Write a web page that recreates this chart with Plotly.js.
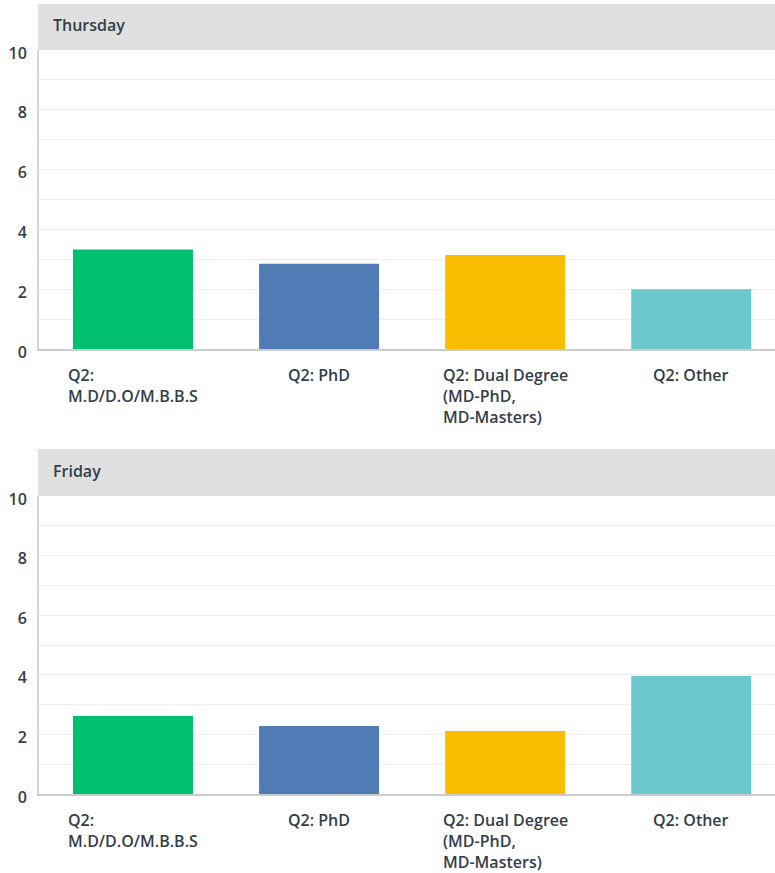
<!DOCTYPE html>
<html>
<head>
<meta charset="utf-8">
<script src="https://cdn.plot.ly/plotly-3.0.1.min.js"></script>
<style>html,body{margin:0;padding:0;background:#fff;}#chart{width:775px;height:873px;}</style>
</head>
<body>
<div id="chart"></div>
<script>
const categories = ["Q2: M.D/D.O/M.B.B.S", "Q2: PhD", "Q2: Dual Degree (MD-PhD, MD-Masters)", "Q2: Other"];
const tickLabels = ["Q2:<br>M.D/D.O/M.B.B.S", "Q2: PhD", "Q2: Dual Degree<br>(MD-PhD,<br>MD-Masters)", "Q2: Other"];
const panelTitles = ["Thursday", "Friday"];
const thursdayValues = [3.33, 2.85, 3.14, 2.0];
const fridayValues = [2.62, 2.28, 2.11, 3.96];
const barColors = ["#00bf6f", "#507cb6", "#f9be00", "#6bc8cd"];
const yTickVals = [0, 2, 4, 6, 8, 10];

const textColor = "#333e48";
const fontFam = "'Open Sans', Roboto, sans-serif";

const traces = [
  {type: "bar", x: categories, y: thursdayValues, marker: {color: barColors}, width: 0.645, xaxis: "x", yaxis: "y", hoverinfo: "x+y"},
  {type: "bar", x: categories, y: fridayValues, marker: {color: barColors}, width: 0.645, xaxis: "x2", yaxis: "y2", hoverinfo: "x+y"}
];

function yAxis(domain) {
  return {
    domain: domain, range: [0, 10], tickvals: yTickVals, ticktext: yTickVals.map(String),
    showgrid: true, gridcolor: "#eeeeee", gridwidth: 1,
    minor: {dtick: 1, showgrid: true, gridcolor: "#eeeeee", gridwidth: 1, ticks: ""},
    showline: true, linecolor: "#d6d6d6", linewidth: 2, zeroline: false,
    ticks: "", ticklabelstandoff: 7, ticklabelshift: 3,
    tickfont: {family: fontFam, size: 16, color: textColor, weight: 600},
    fixedrange: true
  };
}
function xAxis(anchor) {
  return {
    anchor: anchor, range: [-0.505, 3.45], showticklabels: false, showgrid: false,
    showline: true, linecolor: "#cccccc", linewidth: 2, zeroline: false, ticks: "", fixedrange: true
  };
}

const domTop = [1 - 349 / 873, 1 - 50 / 873];
const domBot = [1 - 794 / 873, 1 - 496 / 873];

const shapes = [
  {type: "rect", xref: "paper", yref: "paper", x0: -0.0015, x1: 1, y0: 1 - 50 / 873, y1: 1 - 4 / 873, fillcolor: "#e0e0e0", line: {width: 0}, layer: "below"},
  {type: "rect", xref: "paper", yref: "paper", x0: -0.0015, x1: 1, y0: 1 - 496 / 873, y1: 1 - 449 / 873, fillcolor: "#e0e0e0", line: {width: 0}, layer: "below"}
];

const annotations = [
  {xref: "paper", yref: "paper", x: 12 / 736, y: 1 - 25 / 873, xanchor: "left", yanchor: "middle", text: panelTitles[0], showarrow: false, font: {family: fontFam, size: 16, color: textColor, weight: 600}},
  {xref: "paper", yref: "paper", x: 12 / 736, y: 1 - 471 / 873, xanchor: "left", yanchor: "middle", text: panelTitles[1], showarrow: false, font: {family: fontFam, size: 16, color: textColor, weight: 600}}
];
[["x", "y"], ["x2", "y2"]].forEach(function (ax) {
  categories.forEach(function (c, i) {
    annotations.push({
      xref: ax[0], yref: ax[1] + " domain", x: c, y: 0, yshift: -13,
      xanchor: "center", yanchor: "top", align: "left",
      text: tickLabels[i], showarrow: false,
      font: {family: fontFam, size: 16, color: textColor, weight: 600}
    });
  });
});

const layout = {
  width: 775, height: 873,
  margin: {l: 39, r: 0, t: 0, b: 0, pad: 0},
  paper_bgcolor: "#ffffff", plot_bgcolor: "#ffffff",
  showlegend: false, bargap: 0.35,
  xaxis: xAxis("y"), yaxis: yAxis(domTop),
  xaxis2: xAxis("y2"), yaxis2: yAxis(domBot),
  shapes: shapes, annotations: annotations
};

Plotly.newPlot("chart", traces, layout, {displayModeBar: false, responsive: false});
</script>
</body>
</html>
